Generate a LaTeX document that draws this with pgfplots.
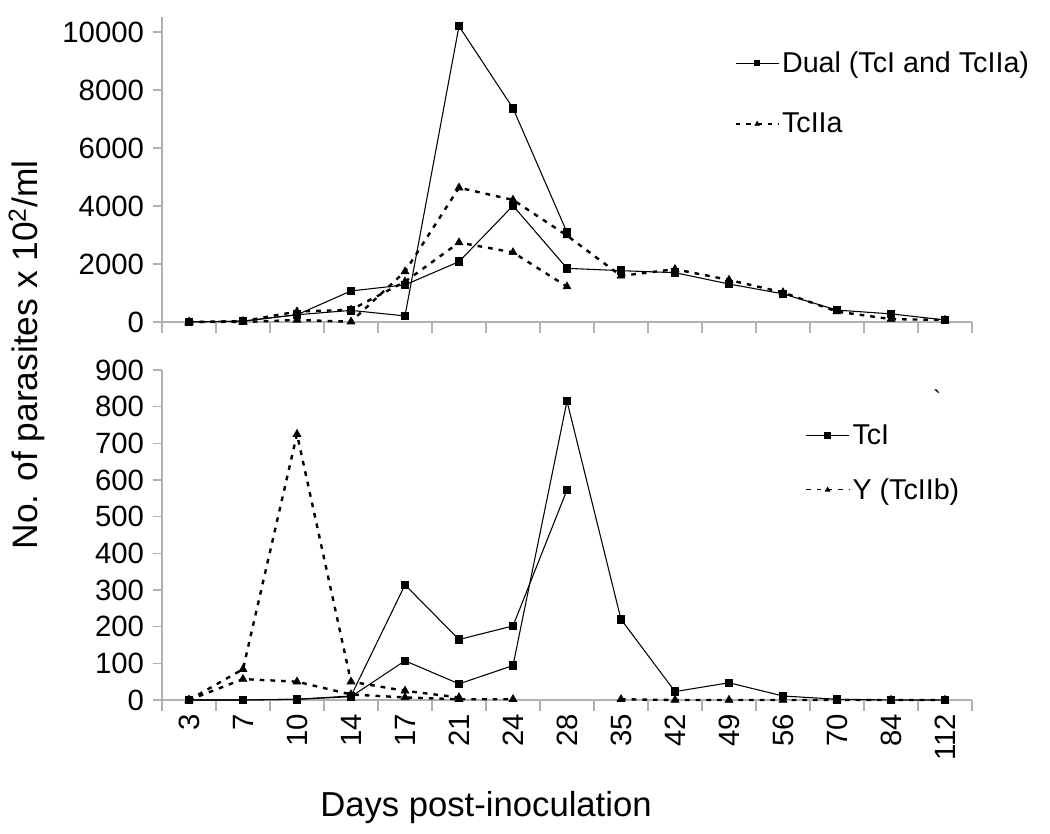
\documentclass[border=0pt]{standalone}
\usepackage{pgfplots}
\pgfplotsset{compat=1.18}
\usepackage{fontspec}
\setmainfont{Liberation Sans}
\pgfplotsset{
  base/.style={
    scale only axis, width=607.5pt, clip=false,
    axis lines=left, axis line style={-, draw=gray!60, line width=1pt},
    xmin=-0.5, xmax=14.5, ymin=0,
    xtick={0,...,14}, major x tick style={draw=none},
    minor xtick={-0.5,0.5,...,14.5},
    tick align=outside, major tick length=7pt, minor tick length=8pt,
    tick style={draw=gray!60, line width=1pt},
    tick label style={font=\fontsize{22}{26}\selectfont},
    yticklabel style={xshift=-3pt},
    /pgf/number format/assume math mode=true,
    /pgf/number format/1000 sep={},
    scaled y ticks=false,
    legend style={draw=none, fill=none, font=\fontsize{21.5}{25}\selectfont, anchor=north west, inner sep=0pt},
    legend cell align=left,
    legend image code/.code={\draw[mark repeat=2,mark phase=2,#1] plot coordinates {(0cm,0cm)(0.57cm,0cm)(1.14cm,0cm)};},
    legend image post style={mark size=2pt, line width=0.9pt},
  },
  sol/.style={black, line width=0.8pt, mark=square*, mark size=2.8pt, mark options={solid}},
  das/.style={black, line width=1.8pt, dash pattern=on 3.5pt off 4.5pt, mark=triangle*, mark size=3.4pt, mark options={solid, line width=0.5pt}},
}
\begin{document}
\begin{tikzpicture}
\path[use as bounding box] (0,0) rectangle (787.5pt,624.75pt);
% top panel
\begin{axis}[base, at={(121.5pt,383.25pt)}, anchor=south west, height=228.4pt,
  ymax=10500, ytick={0,2000,...,10000}, xticklabels={},
  legend style={at={(axis description cs:0.707,0.897)}, row sep=25pt}]
\addplot[sol] coordinates {(0,0)(1,30)(2,250)(3,1070)(4,1280)(5,2080)(6,4010)(7,1850)(8,1770)(9,1700)(10,1310)(11,970)(12,410)(13,280)(14,70)};
\addlegendentry{Dual (TcI and TcIIa)}
\addplot[das] coordinates {(0,0)(1,0)(2,70)(3,10)(4,1740)(5,4630)(6,4210)(7,2980)(8,1590)(9,1820)(10,1450)(11,1020)(12,360)(13,100)(14,70)};
\addlegendentry{TcIIa}
\addplot[sol, forget plot] coordinates {(0,0)(1,30)(2,250)(3,400)(4,210)(5,10200)(6,7370)(7,3090)};
\addplot[das, forget plot] coordinates {(0,0)(1,30)(2,360)(3,420)(4,1390)(5,2740)(6,2400)(7,1220)};
\end{axis}
% bottom panel
\begin{axis}[base, at={(121.5pt,99.75pt)}, anchor=south west, height=247.5pt,
  ymax=900, ytick={0,100,...,900},
  xticklabels={3,7,10,14,17,21,24,28,35,42,49,56,70,84,112},
  xticklabel style={rotate=90, anchor=east},
  unbounded coords=jump,
  legend style={at={(axis description cs:0.794,0.843)}, row sep=20pt}]
\addplot[sol] coordinates {(0,0)(1,0)(2,2)(3,9)(4,107)(5,44)(6,94)(7,815)(8,220)(9,23)(10,47)(11,11)(12,2)(13,0)(14,0)};
\addlegendentry{TcI}
\addplot[das] coordinates {(0,0)(1,57)(2,50)(3,15)(4,7)(5,2)(6,2)(7,nan)(8,2)(9,0)(10,0)(11,0)(12,0)(13,0)(14,0)};
\addlegendentry{Y (TcIIb)}
\addplot[sol, forget plot] coordinates {(0,0)(1,0)(2,2)(3,11)(4,314)(5,165)(6,202)(7,573)};
\addplot[das, forget plot] coordinates {(0,0)(1,84)(2,725)(3,50)(4,25)(5,7)};
\end{axis}
\node[font=\fontsize{26}{30}\selectfont] at (364.5pt,18.75pt) {Days post-inoculation};
\node[rotate=90, font=\fontsize{26.5}{30}\selectfont] at (20.25pt,358.5pt) {No. of parasites x 10\textsuperscript{2}/ml};
\node[font=\fontsize{18}{20}\selectfont] at (702.75pt,326pt) {\textasciigrave};
\end{tikzpicture}
\end{document}
